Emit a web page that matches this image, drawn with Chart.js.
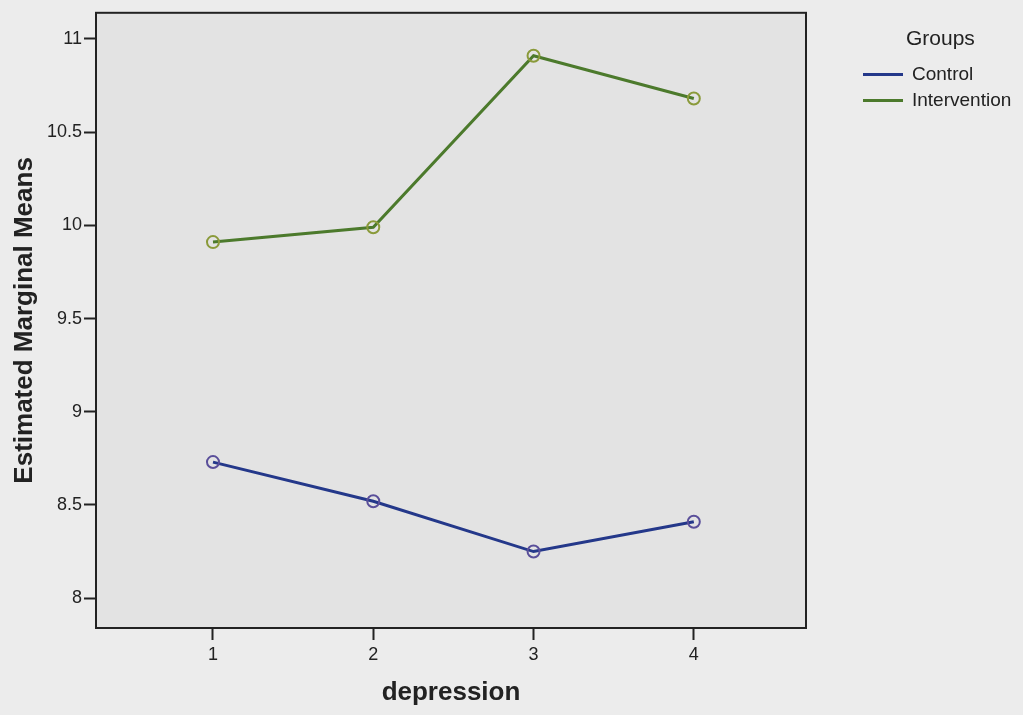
<!DOCTYPE html>
<html>
<head>
<meta charset="utf-8">
<script src="https://cdn.jsdelivr.net/npm/chart.js@4"></script>
<style>
  body { margin: 0; background: #ececec; font-family: "Liberation Sans", Arial, sans-serif; }
  #wrap { position: relative; width: 1023px; height: 715px; }
  #legend { position: absolute; left: 863px; top: 26px; color: #222; }
  #legend .title { font-size: 21px; margin-left: 43px; margin-bottom: 11px; }
  #legend .item { font-size: 19px; height: 26px; display: flex; align-items: center; }
  #legend .swatch { width: 40px; height: 3px; margin-right: 9px; }
</style>
</head>
<body>
<div id="wrap">
  <canvas id="chart" width="1023" height="715"></canvas>
  <div id="legend">
    <div class="title">Groups</div>
    <div class="item"><span class="swatch" style="background:#24388a"></span>Control</div>
    <div class="item"><span class="swatch" style="background:#4c7a2c"></span>Intervention</div>
  </div>
</div>
<script>
// depression time points and estimated marginal means per group
const timePoints = [1, 2, 3, 4];
const controlMeans = [8.73, 8.52, 8.25, 8.41];
const interventionMeans = [9.91, 9.99, 10.91, 10.68];
const yTicks = [8, 8.5, 9, 9.5, 10, 10.5, 11];

// plot frame + grey fill
const frame = {
    id: 'frame',
    beforeDraw(chart) {
        const { ctx, chartArea: a } = chart;
        ctx.save();
        ctx.fillStyle = '#e3e3e3';
        ctx.fillRect(a.left, a.top, a.right - a.left, a.bottom - a.top);
        ctx.restore();
    },
    afterDraw(chart) {
        const { ctx, chartArea: a } = chart;
        ctx.save();
        ctx.strokeStyle = '#222';
        ctx.lineWidth = 2;
        ctx.strokeRect(a.left, a.top, a.right - a.left, a.bottom - a.top);
        ctx.restore();
    }
};

const toPoints = vals => vals.map((v, i) => ({ x: timePoints[i], y: v }));

new Chart(document.getElementById('chart'), {
    type: 'line',
    data: {
        datasets: [{
            label: 'Control',
            data: toPoints(controlMeans),
            borderColor: '#24388a',
            borderWidth: 3,
            pointRadius: 6,
            pointBorderWidth: 2,
            pointBorderColor: '#5a4f9a',
            pointBackgroundColor: 'rgba(0,0,0,0)',
            tension: 0
        }, {
            label: 'Intervention',
            data: toPoints(interventionMeans),
            borderColor: '#4c7a2c',
            borderWidth: 3,
            pointRadius: 6,
            pointBorderWidth: 2,
            pointBorderColor: '#8a9a3a',
            pointBackgroundColor: 'rgba(0,0,0,0)',
            tension: 0
        }]
    },
    options: {
        responsive: false,
        animation: false,
        layout: { padding: { top: 12, right: 217, left: 0, bottom: 0 } },
        plugins: { legend: { display: false }, tooltip: { enabled: false } },
        scales: {
            x: {
                type: 'linear',
                min: 0.27,
                max: 4.7,
                afterBuildTicks: s => { s.ticks = timePoints.map(v => ({ value: v })); },
                afterFit: s => { s.height = 87; },
                grid: { drawOnChartArea: false, tickLength: 12, color: '#222', tickWidth: 2 },
                border: { display: false },
                ticks: { color: '#222', font: { size: 18, family: 'Liberation Sans' }, padding: 4 },
                title: {
                    display: true, text: 'depression', color: '#222',
                    font: { size: 26, weight: 'bold', family: 'Liberation Sans' },
                    padding: { bottom: 7 }
                }
            },
            y: {
                min: 7.84,
                max: 11.14,
                afterBuildTicks: s => { s.ticks = yTicks.map(v => ({ value: v })); },
                afterFit: s => { s.width = 96; },
                grid: { drawOnChartArea: false, tickLength: 12, color: '#222', tickWidth: 2 },
                border: { display: false },
                ticks: {
                    color: '#222', font: { size: 18, family: 'Liberation Sans' }, padding: 2,
                    callback: v => String(v)
                },
                title: {
                    display: true, text: 'Estimated Marginal Means', color: '#222',
                    font: { size: 26, weight: 'bold', family: 'Liberation Sans' },
                    padding: { top: 9 }
                }
            }
        }
    },
    plugins: [frame]
});
</script>
</body>
</html>
